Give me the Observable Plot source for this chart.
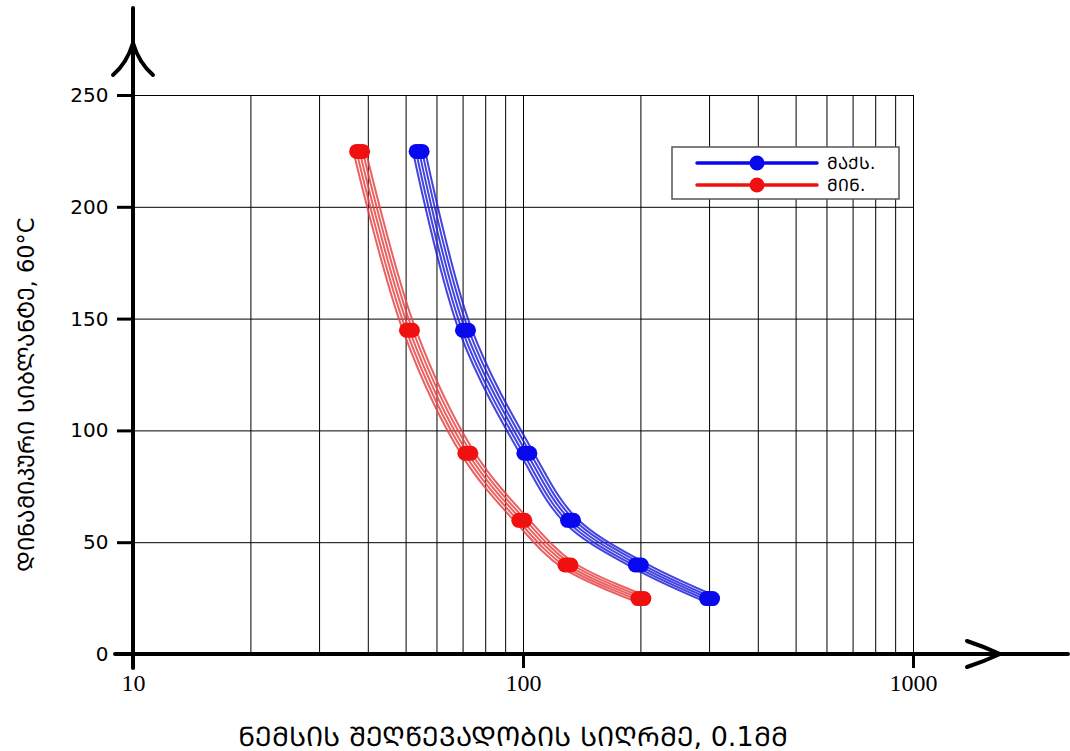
<!DOCTYPE html>
<html>
<head>
<meta charset="utf-8">
<script src="https://cdn.jsdelivr.net/npm/d3@7"></script>
<script src="https://cdn.jsdelivr.net/npm/@observablehq/plot@0.6"></script>
<style>
  html, body { margin: 0; padding: 0; background: #fff; }
  #chart svg { display: block; }
  #chart [aria-label="y-axis tick label"] { font-family: "DejaVu Sans", sans-serif; }
  #chart [aria-label="x-axis tick label"] { font-family: "Liberation Serif", serif; }
</style>
</head>
<body>
<div id="chart"></div>
<script>
// Needle penetration depth (0.1 mm) against dynamic viscosity at 60°C
const viscosity = [225, 145, 90, 60, 40, 25];
const depthMax = [54, 71, 102, 132, 197, 300];
const depthMin = [38, 51, 72, 99, 130, 200];

const seriesNames = ["მაქს.", "მინ."];
const dotColors = ["#0808ee", "#f01010"];
const strandColors = ["#2222dc", "#e84444"];

const xTicks = [10, 100, 1000];
const xGrid = [20, 30, 40, 50, 60, 70, 80, 90, 100, 200, 300, 400, 500, 600, 700, 800, 900, 1000];
const yTicks = [0, 50, 100, 150, 200, 250];
const yGrid = [50, 100, 150, 200, 250];

const xTitle = "ნემსის შეღწევადობის სიღრმე, 0.1მმ";
const yTitle = "დინამიკური სიბლანტე, 60°C";

// Georgian capitals (Mtavruli) from the ordinary Mkhedruli letters
const caps = s => s.replace(/[\u10D0-\u10FA]/g, c => String.fromCharCode(c.charCodeAt(0) + 0xBC0));

const rows = [
  ...depthMax.map((d, i) => ({series: seriesNames[0], depth: d, visc: viscosity[i]})),
  ...depthMin.map((d, i) => ({series: seriesNames[1], depth: d, visc: viscosity[i]}))
];

// each curve is a bundle of thin strands drawn side by side
const strandOffsets = [-2, -1, 0, 1, 2];
const strandMarks = [];
seriesNames.forEach((name, s) => {
  const data = rows.filter(r => r.series === name);
  strandOffsets.forEach(k => {
    strandMarks.push(Plot.line(data, {
      x: "depth", y: "visc", curve: "catmull-rom",
      stroke: strandColors[s], strokeWidth: 2, strokeOpacity: 0.85,
      dx: k * 2.8, dy: -k * 1.3
    }));
  });
});

const dotMarks = [];
seriesNames.forEach((name, s) => {
  const data = rows.filter(r => r.series === name);
  [-3, 0, 3].forEach(off => {
    dotMarks.push(Plot.dot(data, {x: "depth", y: "visc", r: 7.5, fill: dotColors[s], dx: off}));
  });
});

const chart = Plot.plot({
  width: 1070,
  height: 751,
  marginLeft: 133,
  marginRight: 157,
  marginTop: 95,
  marginBottom: 97,
  style: {background: "#fff", color: "#000"},
  x: {type: "log", domain: [10, 1000]},
  y: {domain: [0, 250]},
  marks: [
    Plot.ruleX(xGrid, {y1: 0, y2: 250, stroke: "#000", strokeWidth: 1}),
    Plot.ruleY(yGrid, {x1: 10, x2: 1000, stroke: "#000", strokeWidth: 1}),
    ...strandMarks,
    ...dotMarks,
    Plot.axisY({ticks: yTicks, tickSize: 16, tickPadding: 9, strokeWidth: 3, fontSize: 20, label: null}),
    Plot.axisX({ticks: xTicks, tickSize: 14, tickPadding: 5, strokeWidth: 3, fontSize: 24,
      tickFormat: d => String(d), label: null})
  ]
});

document.getElementById("chart").appendChild(chart);

// axis lines with arrowheads, axis titles and legend
const svg = d3.select(chart);
const xs = chart.scale("x"), ys = chart.scale("y");
const x0 = xs.apply(10), x1 = xs.apply(1000);
const y0 = ys.apply(0), y1 = ys.apply(250);

const deco = svg.append("g").attr("fill", "none").attr("stroke", "#000")
  .attr("stroke-linecap", "round");
deco.append("path").attr("stroke-width", 4)
  .attr("d", `M${x0 - 18},${y0}H${x1 + 155}`);
deco.append("path").attr("stroke-width", 4)
  .attr("d", `M${x0},${y0 + 14}V${y1 - 87}`);
// x arrowhead
deco.append("path").attr("stroke-width", 4)
  .attr("d", `M${x1 + 54},${y0 - 13}Q${x1 + 72},${y0 - 7} ${x1 + 87},${y0}Q${x1 + 72},${y0 + 7} ${x1 + 54},${y0 + 13}`);
// y arrowhead
deco.append("path").attr("stroke-width", 4)
  .attr("d", `M${x0 - 20},${y1 - 20}Q${x0 - 6},${y1 - 32} ${x0},${y1 - 52}Q${x0 + 6},${y1 - 32} ${x0 + 20},${y1 - 20}`);

svg.append("text")
  .attr("x", (x0 + x1) / 2 - 10).attr("y", 746)
  .attr("text-anchor", "middle")
  .attr("font-family", "DejaVu Sans, sans-serif").attr("font-size", 27)
  .attr("fill", "#000")
  .text(caps(xTitle));

svg.append("text")
  .attr("transform", `translate(34,${(y0 + y1) / 2 + 20}) rotate(-90)`)
  .attr("text-anchor", "middle")
  .attr("font-family", "DejaVu Sans, sans-serif").attr("font-size", 22.5)
  .attr("fill", "#000")
  .text(caps(yTitle));

const legend = svg.append("g").attr("transform", "translate(672,147)");
legend.append("rect").attr("width", 227).attr("height", 52)
  .attr("fill", "#fff").attr("stroke", "#555").attr("stroke-width", 1.5);
seriesNames.forEach((name, s) => {
  const ly = 16 + s * 22;
  legend.append("line").attr("x1", 25).attr("x2", 145).attr("y1", ly).attr("y2", ly)
    .attr("stroke", dotColors[s]).attr("stroke-width", 3.5).attr("stroke-linecap", "round");
  legend.append("circle").attr("cx", 85).attr("cy", ly).attr("r", 7.5).attr("fill", dotColors[s]);
  legend.append("text").attr("x", 155).attr("y", ly).attr("dy", "0.36em")
    .attr("text-anchor", "start")
    .attr("font-family", "DejaVu Sans, sans-serif").attr("font-size", 17).attr("fill", "#000")
    .text(caps(name));
});
</script>
</body>
</html>
